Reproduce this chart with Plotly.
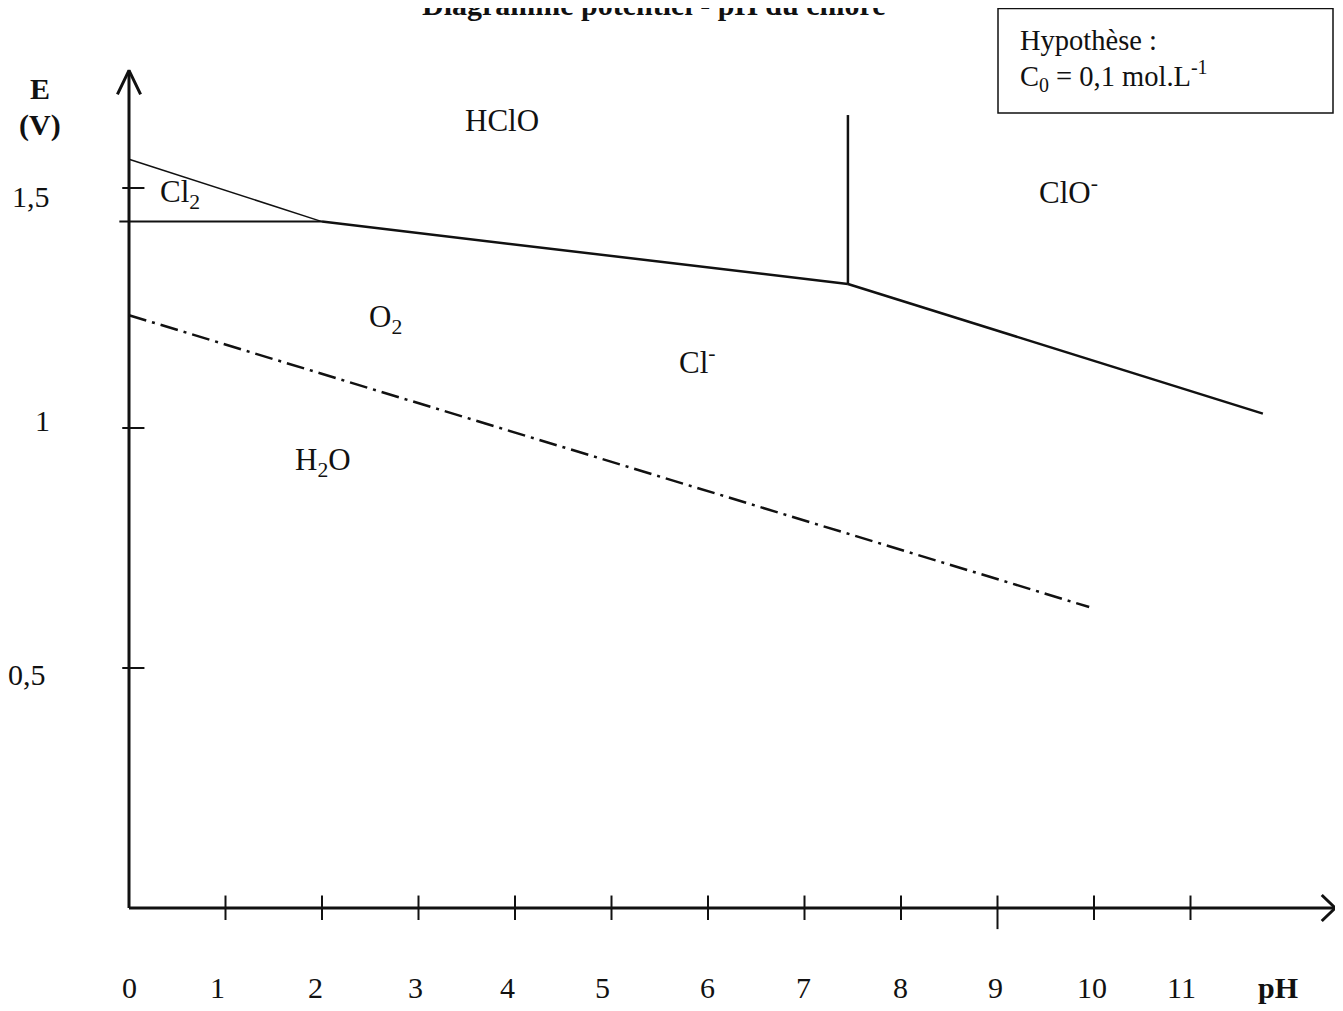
import plotly.graph_objects as go

# ---------------- data ----------------
ph_ticks = [1, 2, 3, 4, 5, 6, 7, 8, 9, 10, 11]
ph_label_values = [0, 1, 2, 3, 4, 5, 6, 7, 8, 9, 10, 11]
ph_tick_labels = ["0", "1", "2", "3", "4", "5", "6", "7", "8", "9", "10", "11"]
E_ticks = [0.5, 1.0, 1.5]
E_tick_labels = ["0,5", "1", "1,5"]

# frontier lines (pH, E in V)
cl2_cl_ph = [-0.1, 2.0]
cl2_cl_E = [1.43, 1.43]
hclo_cl2_ph = [0.0, 2.0]
hclo_cl2_E = [1.56, 1.43]
hclo_cl_ph = [2.0, 7.45]
hclo_cl_E = [1.43, 1.30]
hclo_clo_ph = [7.45, 7.45]
hclo_clo_E = [1.30, 1.652]
clo_cl_ph = [7.45, 11.75]
clo_cl_E = [1.30, 1.03]
water_ph = [0.0, 9.95]
water_E = [1.235, 0.627]

axis_ph_max = 12.5
axis_E_max = 1.745

# ---------------- layout helpers ----------------
OFF = 8                      # default page margin of the html body
W, H = 1343 - OFF, 1011 - OFF
X0_PX, PX_PER_PH = 129.0 - OFF, 96.5
Y0_PX, PX_PER_V = 908.0 - OFF, 480.0
x_range = [(0 - X0_PX) / PX_PER_PH, (W - X0_PX) / PX_PER_PH]
y_range = [(Y0_PX - H) / PX_PER_V, Y0_PX / PX_PER_V]


def px_x(p):   # page pixel -> pH
    return (p - OFF - X0_PX) / PX_PER_PH


def px_y(p):   # page pixel -> E
    return (Y0_PX - (p - OFF)) / PX_PER_V


def pap_x(p):
    return (p - OFF) / W


def pap_y(p):
    return 1 - (p - OFF) / H


FONT = "Liberation Serif, Times New Roman, serif"
BLACK = "#111111"

fig = go.Figure()


def seg(xs, ys, width=2.5, dash="solid"):
    fig.add_trace(go.Scatter(x=xs, y=ys, mode="lines",
                             line=dict(color=BLACK, width=width, dash=dash),
                             hoverinfo="skip", showlegend=False))


# axes
seg([0, 0], [0, axis_E_max], width=3)
seg([0, axis_ph_max], [0, 0], width=3)
# open arrow heads
seg([-0.12, 0, 0.12], [axis_E_max - 0.05, axis_E_max, axis_E_max - 0.05], width=3)
seg([axis_ph_max - 0.14, axis_ph_max, axis_ph_max - 0.14], [0.027, 0, -0.027], width=3)

# x ticks
for p in ph_ticks:
    low = -0.044 if p == 9 else -0.025
    seg([p, p], [low, 0.026], width=2)
# y ticks
for e in E_ticks:
    seg([-0.07, 0.16], [e, e], width=2)

# frontiers
seg(cl2_cl_ph, cl2_cl_E, width=2)
seg(hclo_cl2_ph, hclo_cl2_E, width=1.5)
seg(hclo_cl_ph, hclo_cl_E, width=2.5)
seg(hclo_clo_ph, hclo_clo_E, width=2.5)
seg(clo_cl_ph, clo_cl_E, width=2.5)
seg(water_ph, water_E, width=2.5, dash="18px,6px,3px,6px")

ann = []


def txt(x, y, s, size=31, bold=False, xshift=0, yshift=0, xanchor="center",
        xref="x", yref="y"):
    ann.append(dict(x=x, y=y, xref=xref, yref=yref,
                    text=("<b>%s</b>" % s) if bold else s,
                    showarrow=False, xanchor=xanchor, yanchor="middle",
                    xshift=xshift, yshift=yshift,
                    font=dict(family=FONT, size=size, color=BLACK)))


# x tick labels (slight hand-drawn offsets)
x_label_shift = [0, -8, -7, -3, -8, -9, -1, -1, -1, -2, -2, -9]
for v, lab, dx in zip(ph_label_values, ph_tick_labels, x_label_shift):
    txt(v, 0, lab, size=30, xshift=dx, yshift=-79)
txt(px_x(1278), 0, "pH", size=30, bold=True, yshift=-79)

# y tick labels
y_label_x = [27, 42, 31]
y_label_shift = [-6, 8, -8]
for v, lab, lx, dy in zip(E_ticks, E_tick_labels, y_label_x, y_label_shift):
    txt(px_x(lx), v, lab, size=30, yshift=dy)
txt(px_x(40), px_y(88), "E", size=30, bold=True)
txt(px_x(40), px_y(125), "(V)", size=30, bold=True)

# region labels
txt(px_x(502), px_y(120), "HClO")
txt(px_x(180), px_y(194), "Cl<sub>2</sub>")
txt(px_x(1068), px_y(190), "ClO<sup>-</sup>")
txt(px_x(385), px_y(319), "O<sub>2</sub>")
txt(px_x(697), px_y(360), "Cl<sup>-</sup>")
txt(px_x(323), px_y(462), "H<sub>2</sub>O")

# hypothesis box
txt(pap_x(1018), pap_y(40), "Hypothèse :", size=28.5, xanchor="left",
    xref="paper", yref="paper")
txt(pap_x(1018), pap_y(76), "C<sub>0</sub> = 0,1 mol.L<sup>-1</sup>", size=28.5,
    xanchor="left", xref="paper", yref="paper")

# title (cut at the top of the page, as in the scan)
txt(pap_x(654), pap_y(4), "Diagramme potentiel - pH du chlore", size=30, bold=True,
    xref="paper", yref="paper")

fig.update_layout(
    width=W, height=H, autosize=False,
    margin=dict(l=0, r=0, t=0, b=0),
    paper_bgcolor="white", plot_bgcolor="white",
    xaxis=dict(range=x_range, visible=False, fixedrange=True),
    yaxis=dict(range=y_range, visible=False, fixedrange=True),
    annotations=ann,
    shapes=[dict(type="rect", xref="paper", yref="paper",
                 x0=pap_x(998), x1=pap_x(1333), y0=pap_y(113), y1=pap_y(8.5),
                 line=dict(color=BLACK, width=1.5))],
)

fig.write_html("out.html")
